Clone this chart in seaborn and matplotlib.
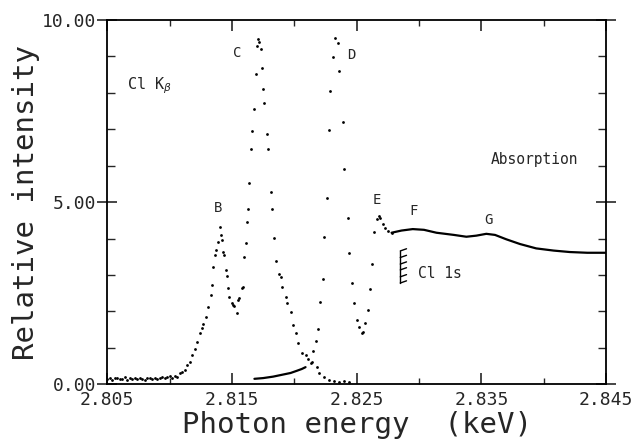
import numpy as np
import pandas as pd
import matplotlib
matplotlib.use("Agg")
import matplotlib.pyplot as plt
import seaborn as sns
from matplotlib.ticker import FixedLocator, MultipleLocator, FormatStrFormatter

# Cl K-beta emission (dots)
emis_e = [2.8050, 2.8052, 2.8054, 2.8056, 2.8058, 2.8060, 2.8062, 2.8064, 2.8066, 2.8068,
          2.8070, 2.8072, 2.8074, 2.8076, 2.8078, 2.8080, 2.8082, 2.8084, 2.8086, 2.8088,
          2.8090, 2.8092, 2.8094, 2.8096, 2.8098, 2.8100, 2.8102, 2.8104, 2.8106, 2.8108,
          2.8110, 2.8112, 2.8114, 2.8116, 2.8118, 2.8120, 2.8122, 2.8124, 2.8126, 2.8127,
          2.8129, 2.8131, 2.8133, 2.8134, 2.8135, 2.8136, 2.8137, 2.8139, 2.8140, 2.8141,
          2.8142, 2.8143, 2.8144, 2.8145, 2.8146, 2.8147, 2.8148, 2.8150, 2.8151, 2.8152,
          2.8154, 2.8155, 2.8156, 2.8158, 2.8159, 2.8160, 2.8161, 2.8162, 2.8163, 2.8164,
          2.8165, 2.8166, 2.8168, 2.8169, 2.8170, 2.8171, 2.8172, 2.8173, 2.8174, 2.8175,
          2.8176, 2.8178, 2.8179, 2.8181, 2.8182, 2.8184, 2.8185, 2.8188, 2.8189, 2.8190,
          2.8193, 2.8194, 2.8197, 2.8199, 2.8201, 2.8203, 2.8206, 2.8209, 2.8211, 2.8214,
          2.8218, 2.8220, 2.8224, 2.8228, 2.8232, 2.8236, 2.8240, 2.8244]
emis_i = [0.14, 0.17, 0.13, 0.16, 0.18, 0.14, 0.15, 0.19, 0.13, 0.16,
          0.15, 0.18, 0.14, 0.17, 0.15, 0.13, 0.17, 0.16, 0.14, 0.18,
          0.15, 0.17, 0.20, 0.16, 0.19, 0.22, 0.18, 0.23, 0.21, 0.30,
          0.33, 0.40, 0.52, 0.62, 0.80, 0.98, 1.17, 1.40, 1.55, 1.66,
          1.86, 2.13, 2.45, 2.73, 3.23, 3.55, 3.69, 3.91, 4.33, 4.10,
          3.96, 3.64, 3.55, 3.14, 2.97, 2.63, 2.40, 2.22, 2.18, 2.15,
          1.97, 2.31, 2.36, 2.63, 2.68, 3.49, 3.87, 4.45, 4.80, 5.52,
          6.47, 6.95, 7.56, 8.52, 9.28, 9.48, 9.40, 9.20, 8.68, 8.10,
          7.72, 6.87, 6.46, 5.28, 4.80, 4.01, 3.38, 3.03, 2.95, 2.68,
          2.39, 2.24, 1.99, 1.63, 1.40, 1.13, 0.87, 0.80, 0.70, 0.60,
          0.48, 0.30, 0.19, 0.12, 0.09, 0.07, 0.08, 0.06]

# absorption: low-energy solid part
abs_lo_e = [2.8168, 2.8175, 2.8183, 2.8190, 2.8197, 2.8202, 2.8206, 2.8209]
abs_lo_i = [0.15, 0.17, 0.21, 0.26, 0.31, 0.37, 0.42, 0.47]

# absorption: dotted part (D, E)
abs_dot_e = [2.8213, 2.8215, 2.8217, 2.8219, 2.8221, 2.8223, 2.8224, 2.8226, 2.8228, 2.8229,
             2.8231, 2.8233, 2.8235, 2.8236, 2.8239, 2.8240, 2.8243, 2.8244, 2.8246, 2.8248,
             2.8250, 2.8252, 2.8254, 2.8255, 2.8257, 2.8259, 2.8261, 2.8262, 2.8264, 2.8266,
             2.8268, 2.8269, 2.8271, 2.8273, 2.8275, 2.8278]
abs_dot_i = [0.59, 0.92, 1.20, 1.52, 2.26, 2.88, 4.05, 5.10, 6.98, 8.06,
             8.98, 9.50, 9.36, 8.60, 7.19, 5.90, 4.56, 3.60, 2.77, 2.24,
             1.76, 1.56, 1.42, 1.44, 1.69, 2.04, 2.61, 3.29, 4.19, 4.53,
             4.62, 4.56, 4.40, 4.30, 4.22, 4.16]

# absorption: high-energy solid part (F, G)
abs_hi_e = [2.8278, 2.8286, 2.8295, 2.8304, 2.8314, 2.8328, 2.8338, 2.8346, 2.8354, 2.8361,
            2.8370, 2.8381, 2.8394, 2.8408, 2.8421, 2.8435, 2.8450]
abs_hi_i = [4.16, 4.22, 4.26, 4.24, 4.16, 4.10, 4.05, 4.08, 4.13, 4.10,
            3.98, 3.85, 3.73, 3.67, 3.63, 3.61, 3.61]

# Cl 1s comb levels
comb_x = 2.8285
comb_y = [3.66, 3.48, 3.30, 3.14, 2.95, 2.78]

peak_labels = ["B", "C", "D", "E", "F", "G"]
peak_x = [2.8139, 2.8154, 2.8246, 2.8266, 2.8296, 2.8356]
peak_y = [4.84, 9.10, 9.04, 5.06, 4.76, 4.50]

x_major = [2.805, 2.815, 2.825, 2.835, 2.845]
x_minor = [2.810, 2.820, 2.830, 2.840]

sns.set_style("ticks")
plt.rcParams["font.family"] = ["DejaVu Sans Mono", "DejaVu Sans"]
plt.rcParams["mathtext.fontset"] = "dejavusans"

fig = plt.figure(figsize=(6.41, 4.44), dpi=100)
ax = fig.add_axes([0.1674, 0.1345, 0.9454 - 0.1674, 0.955 - 0.1345])

emis = pd.DataFrame({"e": emis_e, "i": emis_i})
adot = pd.DataFrame({"e": abs_dot_e, "i": abs_dot_i})
alo = pd.DataFrame({"e": abs_lo_e, "i": abs_lo_i})
ahi = pd.DataFrame({"e": abs_hi_e, "i": abs_hi_i})

sns.scatterplot(data=emis, x="e", y="i", ax=ax, color="black", s=4, linewidth=0)
sns.scatterplot(data=adot, x="e", y="i", ax=ax, color="black", s=4, linewidth=0)
sns.lineplot(data=alo, x="e", y="i", ax=ax, color="black", lw=1.6, estimator=None, sort=False)
sns.lineplot(data=ahi, x="e", y="i", ax=ax, color="black", lw=1.6, estimator=None, sort=False)

# comb marker
ax.plot([comb_x, comb_x], [comb_y[-1], comb_y[0]], color="black", lw=1)
for yy in comb_y:
    ax.plot([comb_x, comb_x + 0.0005], [yy, yy + 0.06], color="black", lw=1)

for lab, xx, yy in zip(peak_labels, peak_x, peak_y):
    ax.text(xx, yy, lab, fontsize=10, ha="center", va="center")
ax.text(2.8066, 8.2, r"Cl K$_\beta$", fontsize=11, ha="left", va="center")
ax.text(2.8393, 6.18, "Absorption", fontsize=10.5, ha="center", va="center")
ax.text(2.8299, 3.03, "Cl 1s", fontsize=10.5, ha="left", va="center")

ax.set_xlim(2.805, 2.845)
ax.set_ylim(0, 10)
ax.xaxis.set_major_locator(FixedLocator(x_major))
ax.xaxis.set_minor_locator(FixedLocator(x_minor))
ax.yaxis.set_major_locator(MultipleLocator(5))
ax.yaxis.set_minor_locator(MultipleLocator(1))
ax.xaxis.set_major_formatter(FormatStrFormatter("%.3f"))
ax.yaxis.set_major_formatter(FormatStrFormatter("%.2f"))
ax.tick_params(axis="x", which="major", direction="in", length=8, width=1.2,
               top=True, labelsize=13, pad=5)
ax.tick_params(axis="x", which="minor", direction="in", length=4, width=1, top=True)
ax.tick_params(axis="y", which="major", direction="inout", length=14, width=1.2,
               right=True, labelsize=13, pad=1)
ax.tick_params(axis="y", which="minor", direction="in", length=6, width=1, right=True)
for s in ax.spines.values():
    s.set_linewidth(1.3)
    s.set_color("black")

ax.set_xlabel("Photon energy  (keV)", fontsize=21, labelpad=1)
ax.set_ylabel("Relative intensity", fontsize=21, labelpad=1)

fig.savefig("out.png", dpi=100)
